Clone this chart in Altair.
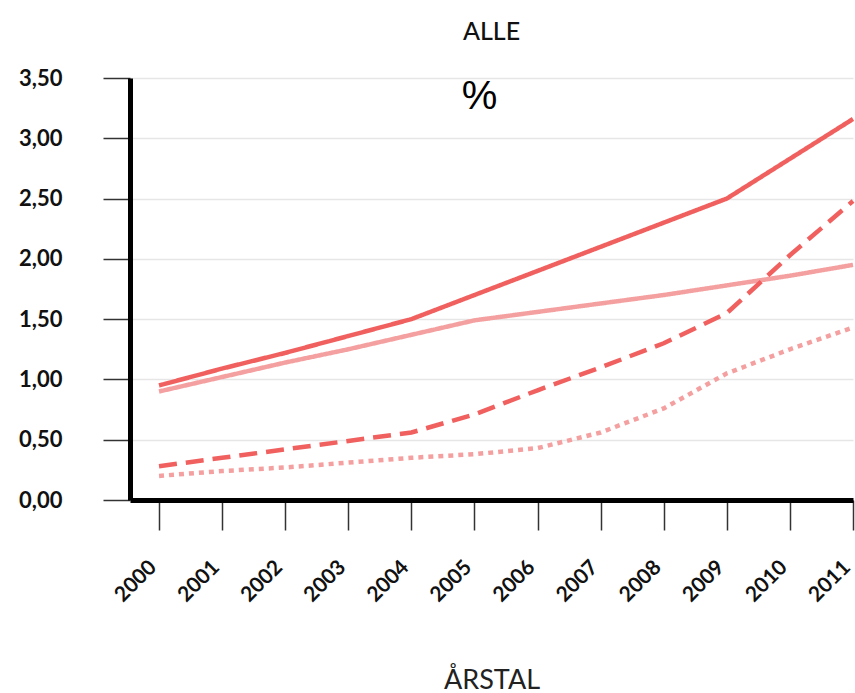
import altair as alt
import pandas as pd

years = [2000, 2001, 2002, 2003, 2004, 2005, 2006, 2007, 2008, 2009, 2010, 2011]
series_names = ["A", "B", "C", "D"]
serie_a = [0.95, 1.09, 1.22, 1.36, 1.50, 1.70, 1.90, 2.10, 2.30, 2.50, 2.83, 3.16]
serie_b = [0.90, 1.02, 1.14, 1.25, 1.37, 1.49, 1.56, 1.63, 1.70, 1.78, 1.86, 1.95]
serie_c = [0.28, 0.35, 0.42, 0.49, 0.56, 0.71, 0.91, 1.10, 1.30, 1.55, 2.03, 2.48]
serie_d = [0.20, 0.24, 0.27, 0.31, 0.35, 0.38, 0.43, 0.56, 0.76, 1.05, 1.25, 1.43]
y_ticks = [0.0, 0.5, 1.0, 1.5, 2.0, 2.5, 3.0, 3.5]

rows = []
for name, vals in zip(series_names, [serie_a, serie_b, serie_c, serie_d]):
    for yr, v in zip(years, vals):
        rows.append({"year": yr, "value": v, "serie": name})
df = pd.DataFrame(rows)

FONT = "Lato"

chart = alt.Chart(df).mark_line(strokeWidth=4.5, strokeCap="butt", clip=False).encode(
    x=alt.X("year:Q",
            scale=alt.Scale(domain=[1999.54, 2011], nice=False, zero=False),
            axis=alt.Axis(values=years, format="d", labelAngle=-45,
                          grid=False, domainColor="black", domainWidth=5,
                          tickColor="#333333", tickWidth=1.5, tickSize=30,
                          labelPadding=26, labelOffset=-14, labelFont=FONT,
                          labelFontSize=21, labelFontWeight="bold",
                          labelColor="#111111", labelBound=False, labelFlush=False,
                          title="ÅRSTAL", titleFont=FONT, titleFontSize=27,
                          titleFontWeight="normal", titleColor="#222222",
                          titleY=188, titleBaseline="alphabetic")),
    y=alt.Y("value:Q",
            scale=alt.Scale(domain=[0, 3.5], nice=False),
            axis=alt.Axis(values=y_ticks,
                          labelExpr="replace(format(datum.value, '.2f'), '.', ',')",
                          grid=True, gridColor="#e6e6e6", gridWidth=1.5,
                          domainColor="black", domainWidth=5,
                          tickColor="#333333", tickWidth=1.5, tickSize=27,
                          labelPadding=41, labelFont=FONT, labelFontSize=22,
                          labelFontWeight="bold", labelColor="#111111",
                          title="%", titleAngle=0, titleX=349, titleY=30,
                          titleAlign="center", titleBaseline="alphabetic",
                          titleFont="Liberation Sans", titleFontSize=40,
                          titleFontWeight="normal", titleColor="black")),
    color=alt.Color("serie:N", legend=None,
                    scale=alt.Scale(domain=series_names,
                                    range=["#F0605F", "#F5A0A0", "#F0605F", "#F5A0A0"])),
    strokeDash=alt.StrokeDash("serie:N", legend=None,
                              scale=alt.Scale(domain=series_names,
                                              range=[[1, 0], [1, 0], [18, 9], [5, 5]])),
    detail="serie:N",
).properties(
    width=723,
    height=422,
    autosize="none",
    padding={"left": 130, "top": 78, "right": 2, "bottom": 193},
    title=alt.TitleParams("ALLE", font=FONT, fontSize=25, fontWeight=500,
                          color="#111111", baseline="alphabetic", offset=2,
                          anchor="middle"),
).configure_view(stroke=None)

chart.save("out.html", embed_options={"renderer": "svg", "actions": False})
